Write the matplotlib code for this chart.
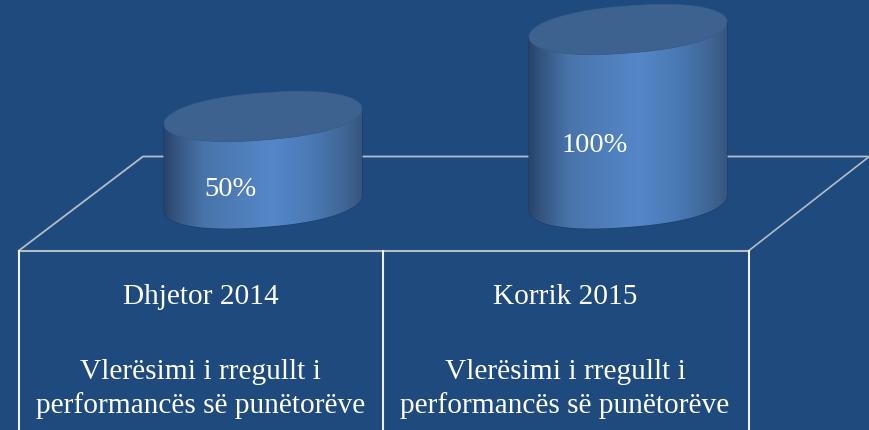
import numpy as np
import matplotlib
matplotlib.use('Agg')
import matplotlib.pyplot as plt
from matplotlib.colors import LinearSegmentedColormap
from matplotlib.patches import Polygon

# data
dates = ['Dhjetor 2014', 'Korrik 2015']
desc = ['Vlerësimi i rregullt i', 'performancës së punëtorëve']
values = [50, 100]
labels = ['50%', '100%']

bg = '#1f4a7d'
line = '#b4bcc8'
cmap = LinearSegmentedColormap.from_list('cyl', [
    (0.0, '#29436a'), (0.06, '#345580'), (0.2, '#4874a9'), (0.55, '#5587c9'),
    (0.75, '#4a7ab4'), (0.92, '#3f6594'), (1.0, '#36557f')])

fig = plt.figure(figsize=(8.69, 4.31), dpi=100, facecolor=bg)
ax = fig.add_axes([0, 0, 1, 1])
ax.set_xlim(0, 869)
ax.set_ylim(431, 0)
ax.axis('off')

# floor lines
ax.plot([19, 143, 869], [251.5, 157.5, 157.5], color=line, lw=1.3, zorder=1)
ax.plot([749, 868], [251.5, 158.5], color=line, lw=1.2, zorder=1)
ax.plot([19, 749], [251.5, 251.5], color=line, lw=1.5, zorder=1)
for x in [19, 383, 749]:
    ax.plot([x, x], [252, 431], color='#eef1f5', lw=1.5, zorder=2)

# cylinders
centers = [263, 628]
a = 99
b = 23.5
k = 7.5
base = 204.5
scale = 1.74
t = np.linspace(0, 2 * np.pi, 400)
lower = np.linspace(0, np.pi, 200)
label_x = [230, 595]
label_y = [196, 152.5]


def round_cos(p):  # 끝부분을 조금 둥글게
    return np.sign(np.cos(p)) * np.abs(np.cos(p)) ** 0.85


for cx, v, lab, lx, ly in zip(centers, values, labels, label_x, label_y):
    top = base - v * scale
    xs = cx + a * round_cos(lower)
    side = np.r_[np.c_[xs, base - k * round_cos(lower) + b * np.sin(lower)],
                 np.c_[xs[::-1], top - k * round_cos(lower[::-1]) + b * np.sin(lower[::-1])]]
    poly = Polygon(side, closed=True, fc='none', ec='#1d3a60', lw=0.8, zorder=3)
    ax.add_patch(poly)
    im = ax.imshow(np.linspace(0, 1, 256)[None, :], cmap=cmap, aspect='auto',
                   extent=[cx - a, cx + a, base + 40, top - 40], zorder=3)
    im.set_clip_path(poly)
    ax.fill(cx + a * round_cos(t), top - k * round_cos(t) + b * np.sin(t),
            fc='#3e628f', ec='#3a5f8c', lw=0.5, zorder=4)
    ax.text(lx, ly, lab, color='white', family='Liberation Serif', fontsize=20.5,
            ha='center', va='baseline', zorder=5)
ax.set_xlim(0, 869)
ax.set_ylim(431, 0)

# labels
for cx, d in zip([200.5, 565], dates):
    ax.text(cx, 304.5, d, color='white', family='Liberation Serif', fontsize=21.2,
            ha='center', va='baseline', zorder=5)
    ax.text(cx, 379, desc[0], color='white', family='Liberation Serif', fontsize=21.2,
            ha='center', va='baseline', zorder=5)
    ax.text(cx, 413, desc[1], color='white', family='Liberation Serif', fontsize=21.2,
            ha='center', va='baseline', zorder=5)

fig.savefig('out.png', dpi=100, facecolor=bg)
